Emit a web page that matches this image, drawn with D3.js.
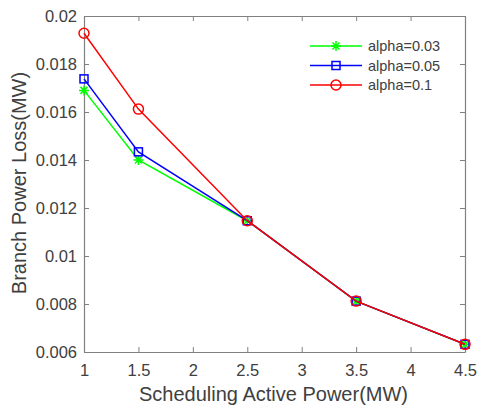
<!DOCTYPE html>
<html>
<head>
<meta charset="utf-8">
<script src="https://cdn.jsdelivr.net/npm/d3@7"></script>
<style>
  body { margin: 0; background: #fff; }
  text { font-family: "Liberation Sans", Arial, sans-serif; }
</style>
</head>
<body>
<svg id="chart" width="477" height="405"></svg>
<script>
// chart data
const xValues = [1, 1.5, 2.5, 3.5, 4.5];
const alpha003 = [0.0169, 0.0140, 0.01147, 0.00812, 0.00632];
const alpha005 = [0.01738, 0.01434, 0.01147, 0.00812, 0.00632];
const alpha01 = [0.01928, 0.01612, 0.01147, 0.00812, 0.00632];
const seriesNames = ["alpha=0.03", "alpha=0.05", "alpha=0.1"];
const xTicks = [1, 1.5, 2, 2.5, 3, 3.5, 4, 4.5];
const yTicks = [0.006, 0.008, 0.01, 0.012, 0.014, 0.016, 0.018, 0.02];

const series = [
  { name: seriesNames[0], values: alpha003, color: "#00ff00", marker: "star" },
  { name: seriesNames[1], values: alpha005, color: "#0000ff", marker: "square" },
  { name: seriesNames[2], values: alpha01, color: "#ff0000", marker: "circle" }
];

const svg = d3.select("#chart");
const margin = { left: 84, right: 12, top: 16, bottom: 53 };
const width = 477 - margin.left - margin.right;
const height = 405 - margin.top - margin.bottom;

const x = d3.scaleLinear().domain([1, 4.5]).range([0, width]);
const y = d3.scaleLinear().domain([0.006, 0.02]).range([height, 0]);

const g = svg.append("g").attr("transform", `translate(${margin.left},${margin.top})`);

const axisColor = "#808080";
const textColor = "#404040";

// axes: ticks point inward, mirrored on top and right like matlab's box
function styleAxis(sel, hideText) {
  sel.select(".domain").attr("stroke", axisColor).attr("stroke-width", 1.2);
  sel.selectAll(".tick line").attr("stroke", axisColor).attr("stroke-width", 1);
  sel.selectAll(".tick text")
    .attr("fill", textColor)
    .style("font-size", "16.5px")
    .style("display", hideText ? "none" : null);
}

g.append("g").attr("transform", `translate(0,${height})`)
  .call(d3.axisBottom(x).tickValues(xTicks).tickFormat(d3.format("")).tickSizeInner(-5).tickSizeOuter(0).tickPadding(12))
  .call(s => styleAxis(s, false));
g.append("g")
  .call(d3.axisTop(x).tickValues(xTicks).tickSizeInner(-5).tickSizeOuter(0))
  .call(s => styleAxis(s, true));
g.append("g")
  .call(d3.axisLeft(y).tickValues(yTicks).tickFormat(d3.format("")).tickSizeInner(-5).tickSizeOuter(0).tickPadding(7))
  .call(s => styleAxis(s, false));
g.append("g").attr("transform", `translate(${width},0)`)
  .call(d3.axisRight(y).tickValues(yTicks).tickSizeInner(-5).tickSizeOuter(0))
  .call(s => styleAxis(s, true));

// marker drawing
function drawMarker(sel, type, color) {
  if (type === "circle") {
    sel.append("circle").attr("r", 5).attr("fill", "none").attr("stroke", color).attr("stroke-width", 1.5);
  } else if (type === "square") {
    sel.append("rect").attr("x", -4).attr("y", -4).attr("width", 8).attr("height", 8)
      .attr("fill", "none").attr("stroke", color).attr("stroke-width", 1.5);
  } else {
    const r = 5;
    sel.append("path")
      .attr("d", `M${-r},0H${r}M0,${-r}V${r}M${-r * 0.7},${-r * 0.7}L${r * 0.7},${r * 0.7}M${-r * 0.7},${r * 0.7}L${r * 0.7},${-r * 0.7}`)
      .attr("stroke", color).attr("stroke-width", 1.5).attr("fill", "none");
  }
}

const line = d3.line().x((d, i) => x(xValues[i])).y(d => y(d));

series.forEach(s => {
  g.append("path").datum(s.values)
    .attr("d", line)
    .attr("fill", "none")
    .attr("stroke", s.color)
    .attr("stroke-width", 1.5);
  s.values.forEach((v, i) => {
    const m = g.append("g").attr("transform", `translate(${x(xValues[i])},${y(v)})`);
    drawMarker(m, s.marker, s.color);
  });
});

// legend
const legend = svg.append("g").attr("transform", "translate(310,46)");
series.forEach((s, i) => {
  const row = legend.append("g").attr("transform", `translate(0,${i * 19.5})`);
  row.append("line").attr("x1", 0).attr("x2", 52).attr("y1", 0).attr("y2", 0)
    .attr("stroke", s.color).attr("stroke-width", 1.5);
  drawMarker(row.append("g").attr("transform", "translate(26,0)"), s.marker, s.color);
  row.append("text").attr("x", 58).attr("y", 5)
    .attr("fill", textColor).style("font-size", "14.5px").text(s.name);
});

// axis labels
svg.append("text")
  .attr("x", margin.left + width / 2 - 1).attr("y", 401)
  .attr("text-anchor", "middle").attr("fill", textColor)
  .style("font-size", "20px")
  .text("Scheduling Active Power(MW)");
svg.append("text")
  .attr("transform", `translate(26,${margin.top + height / 2 - 1}) rotate(-90)`)
  .attr("text-anchor", "middle").attr("fill", textColor)
  .style("font-size", "20px")
  .text("Branch Power Loss(MW)");
</script>
</body>
</html>
